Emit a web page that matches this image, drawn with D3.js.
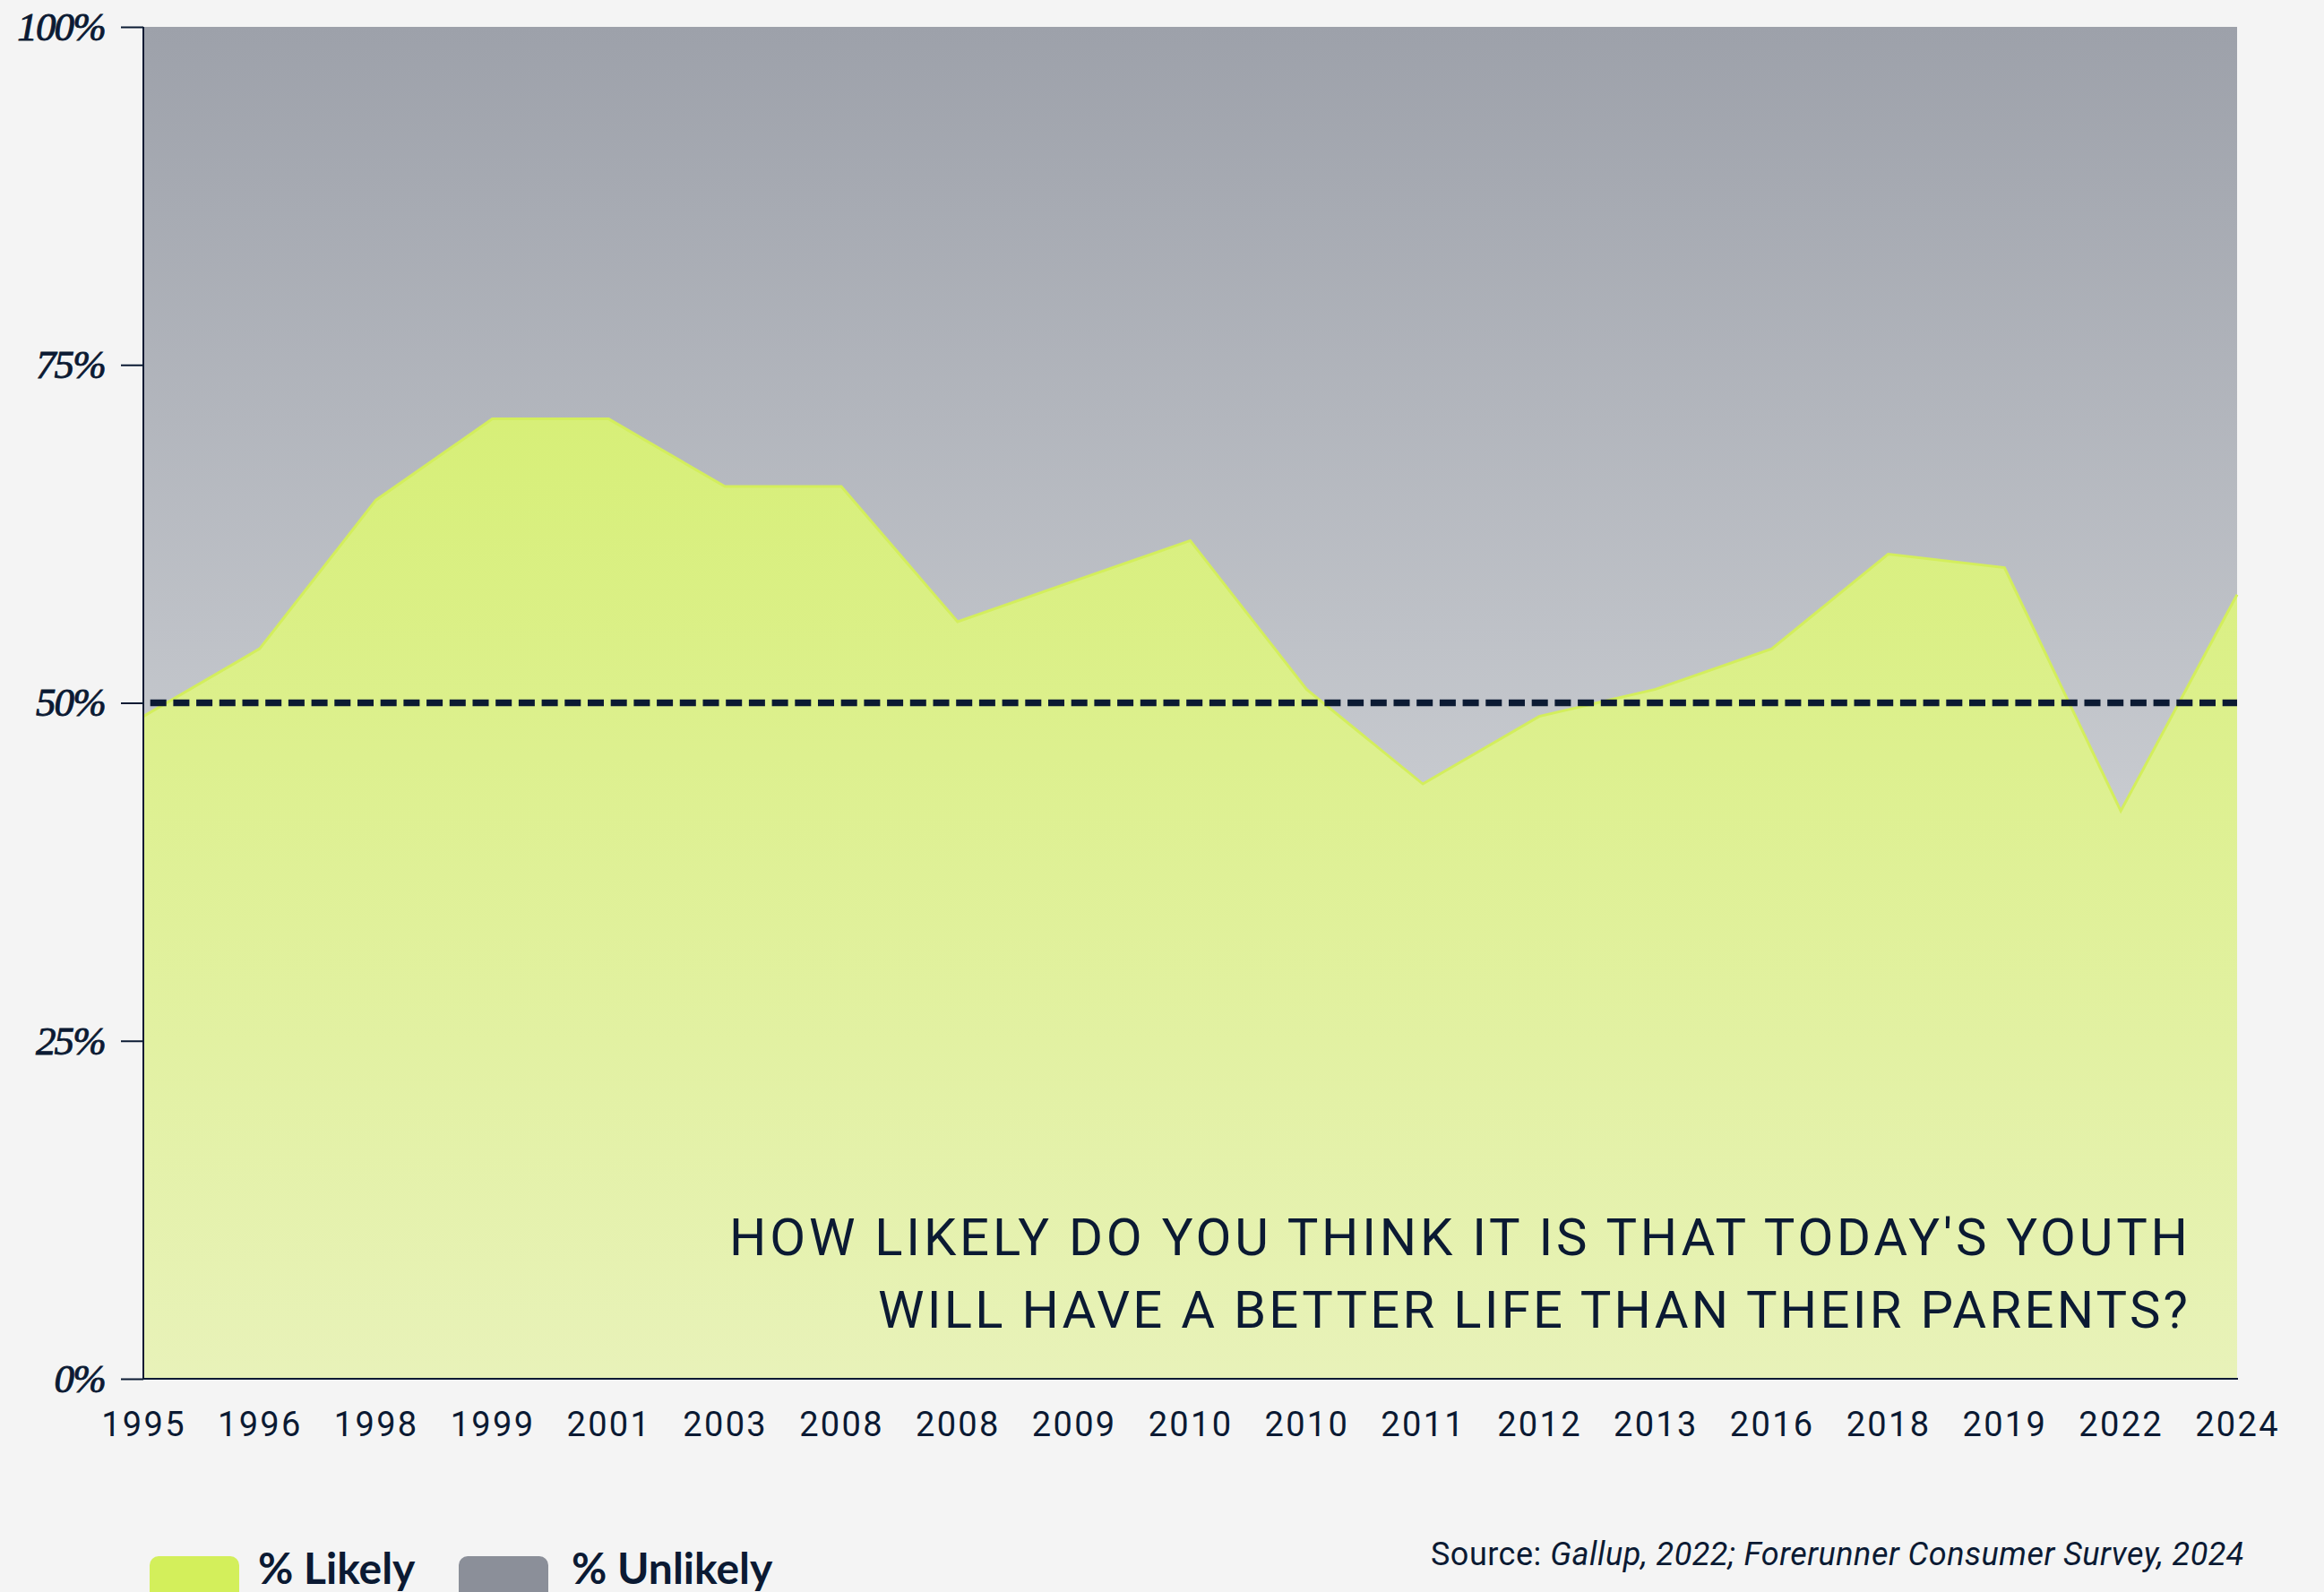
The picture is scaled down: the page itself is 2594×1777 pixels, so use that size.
<!DOCTYPE html>
<html><head><meta charset="utf-8">
<script src="https://cdn.jsdelivr.net/npm/d3@7"></script>
<style>html,body{margin:0;padding:0;background:#f4f4f4;} svg{display:block}</style>
</head><body>
<svg id="chart" width="2594" height="1777"></svg>
<script>
const years = ["1995","1996","1998","1999","2001","2003","2008","2008","2009","2010","2010","2011","2012","2013","2016","2018","2019","2022","2024"];
const likely = [49,54,65,71,71,66,66,56,59,62,51,44,49,51,54,61,60,42,58];
const unlikely = [51,46,35,29,29,34,34,44,41,38,49,56,51,49,46,39,40,58,42];
const yTicks = [0,25,50,75,100];
const referenceLevel = 50;
const titleLines = ["HOW LIKELY DO YOU THINK IT IS THAT TODAY'S YOUTH","WILL HAVE A BETTER LIFE THAN THEIR PARENTS?"];
const legendLabels = ["% Likely","% Unlikely"];
const sourcePlain = "Source: ";
const sourceItalic = "Gallup, 2022; Forerunner Consumer Survey, 2024";

(function(){
const W = 2594, H = 1777;
const pLeft = 160, pRight = 2497, pTop = 30, pBottom = 1539;
const navy = "#0b1a33";
const svg = d3.select("#chart");
svg.append("rect").attr("width", W).attr("height", H).attr("fill", "#f4f4f4");

const idx = d3.range(years.length);
const x = d3.scalePoint().domain(idx).range([pLeft, pRight]);
const y = d3.scaleLinear().domain([0, 100]).range([pBottom, pTop]);

const defs = svg.append("defs");
const gG = defs.append("linearGradient").attr("id","gGreen").attr("gradientUnits","userSpaceOnUse")
  .attr("x1",0).attr("x2",0).attr("y1",y(71)).attr("y2",y(0));
gG.append("stop").attr("offset",0).attr("stop-color","#d7ef78");
gG.append("stop").attr("offset",1).attr("stop-color","#e8f2b9");
const gR = defs.append("linearGradient").attr("id","gGray").attr("gradientUnits","userSpaceOnUse")
  .attr("x1",0).attr("x2",0).attr("y1",y(100)).attr("y2",y(42));
gR.append("stop").attr("offset",0).attr("stop-color","#9da1aa");
gR.append("stop").attr("offset",1).attr("stop-color","#c8cbd0");

const grayArea = d3.area().x(i => x(i)).y0(i => y(likely[i])).y1(i => y(likely[i] + unlikely[i]));
svg.append("path").datum(idx).attr("d", grayArea).attr("fill","url(#gGray)");

const greenArea = d3.area().x(i => x(i)).y0(y(0)).y1(i => y(likely[i]));
svg.append("path").datum(idx).attr("d", greenArea).attr("fill","url(#gGreen)");
const topLine = d3.line().x(i => x(i)).y(i => y(likely[i]));
svg.append("path").datum(idx).attr("d", topLine).attr("fill","none")
  .attr("stroke","#d3ee5c").attr("stroke-width",3).attr("stroke-linejoin","miter");

// reference dashed line
svg.append("line").attr("x1", pLeft).attr("x2", pRight).attr("y1", y(referenceLevel)).attr("y2", y(referenceLevel))
  .attr("stroke", navy).attr("stroke-width", 7.5).attr("stroke-dasharray","18,7.7").attr("stroke-dashoffset",18);

// y axis
const yAxis = svg.append("g").attr("transform",`translate(${pLeft},0)`)
  .call(d3.axisLeft(y).tickValues(yTicks).tickSize(25).tickPadding(18).tickFormat(d => d + "%"));
yAxis.select(".domain").attr("stroke", navy).attr("stroke-width", 2).attr("d", `M0,${y(100)}V${y(0)}`);
yAxis.selectAll(".tick line").attr("stroke", navy).attr("stroke-width", 2);
yAxis.selectAll(".tick text").attr("fill", navy).attr("stroke", navy).attr("stroke-width", 0.9)
  .attr("font-family","'Liberation Serif', serif")
  .attr("font-style","italic").attr("font-size", 45).attr("letter-spacing", -1.8).attr("dy","0.32em");

// x axis
const xAxis = svg.append("g").attr("transform",`translate(0,${pBottom})`)
  .call(d3.axisBottom(x).tickSize(0).tickFormat(i => years[i]));
xAxis.select(".domain").attr("stroke", navy).attr("stroke-width", 2).attr("d", `M${pLeft},0H${pRight+1}`);
xAxis.selectAll(".tick text").attr("fill", navy).attr("font-family","Roboto, sans-serif")
  .attr("font-size", 38).attr("letter-spacing", 2.3).attr("dy", null).attr("y", 64);

// title
const titleWidths = [1628, 1462];
titleLines.forEach((t, k) => {
  svg.append("text").attr("x", 2442).attr("y", 1401 + k * 81).attr("text-anchor","end")
    .attr("font-family","Roboto, sans-serif").attr("font-size", 58).attr("fill", navy)
    .attr("textLength", titleWidths[k]).attr("lengthAdjust", "spacing").text(t);
});

// legend
const legendColors = ["#d3ef5b", "#8b8f99"];
const legendX = [167, 512];
const legendTextOffset = [121, 126];
legendLabels.forEach((l, k) => {
  svg.append("rect").attr("x", legendX[k]).attr("y", 1737).attr("width", 100).attr("height", 52)
    .attr("rx", 10).attr("fill", legendColors[k]);
  svg.append("text").attr("x", legendX[k] + legendTextOffset[k]).attr("y", 1768).attr("font-family","Lato, sans-serif")
    .attr("font-weight", 700).attr("font-size", 48).attr("fill", navy).text(l);
});

// source
const src = svg.append("text").attr("x", 2505).attr("y", 1747).attr("text-anchor","end")
  .attr("font-family","Roboto, sans-serif").attr("font-size", 36).attr("letter-spacing", 0.5).attr("fill", navy);
src.append("tspan").text(sourcePlain);
src.append("tspan").attr("font-style","italic").text(sourceItalic);
})();
</script>
</body></html>
